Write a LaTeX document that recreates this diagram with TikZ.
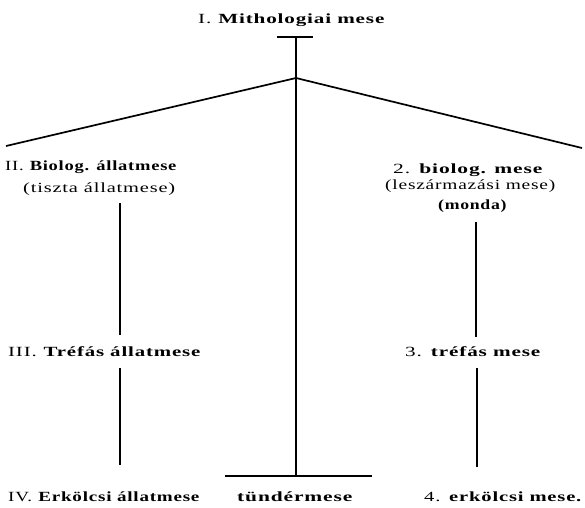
\documentclass[tikz,border=0pt]{standalone}
\usepackage{fontspec}
\setmainfont{Liberation Serif}[LetterSpace=4]
\usepackage{graphicx}
\newcommand\fitw[2]{\resizebox{#1pt}{\height}{#2}}
\begin{document}
\begin{tikzpicture}[x=1pt,y=-1pt,
  line/.style={line width=1.7pt, black},
  lbl/.style={inner sep=0pt, anchor=base west, font=\fontsize{14}{16}\selectfont}]
\useasboundingbox (0,0) rectangle (585,507);
% labels
\node[lbl] (t1)  at (198,23)  {\fitw{187}{I. \textbf{Mithologiai mese}}};
\node[lbl] (b2)  at (5,170)   {\fitw{172}{II. \textbf{Biolog. állatmese}}};
\node[lbl] (b2s) at (23,192)  {\fitw{152}{(tiszta állatmese)}};
\node[lbl] (r2)  at (393,173) {\fitw{150}{2. \textbf{biolog. mese}}};
\node[lbl] (r2s) at (385,189) {\fitw{170}{(leszármazási mese)}};
\node[lbl] (r2m) at (438,209) {\fitw{69}{\textbf{(monda)}}};
\node[lbl] (t3)  at (8,356)   {\fitw{193}{III. \textbf{Tréfás állatmese}}};
\node[lbl] (r3)  at (405,356) {\fitw{136}{3. \textbf{tréfás mese}}};
\node[lbl] (b4)  at (8,501)   {\fitw{192}{IV. \textbf{Erkölcsi állatmese}}};
\node[lbl] (m4)  at (237,501) {\fitw{116}{\textbf{tündérmese}}};
\node[lbl] (r4)  at (424,501) {\fitw{158}{4. \textbf{erkölcsi mese.}}};
% coordinates
\coordinate (topL) at (277,37);
\coordinate (topR) at (313,37);
\coordinate (topM) at (296,37);
\coordinate (apex) at (296,78);
\coordinate (endL) at (6,146);
\coordinate (endR) at (582,148);
\coordinate (botL) at (225,476);
\coordinate (botR) at (372,476);
\coordinate (botM) at (296,476);
\coordinate (l1a) at (120,203);
\coordinate (l1b) at (120,335);
\coordinate (l2a) at (120,368);
\coordinate (l2b) at (120,465);
\coordinate (r1a) at (476,222);
\coordinate (r1b) at (476,337);
\coordinate (r2a) at (477,368);
\coordinate (r2b) at (477,467);
% connectors
\draw[line] (topL) -- (topR);
\draw[line] (topM) -- (botM);
\draw[line] (endL) -- (apex) -- (endR);
\draw[line] (botL) -- (botR);
\draw[line] (l1a) -- (l1b);
\draw[line] (l2a) -- (l2b);
\draw[line] (r1a) -- (r1b);
\draw[line] (r2a) -- (r2b);
\end{tikzpicture}
\end{document}
